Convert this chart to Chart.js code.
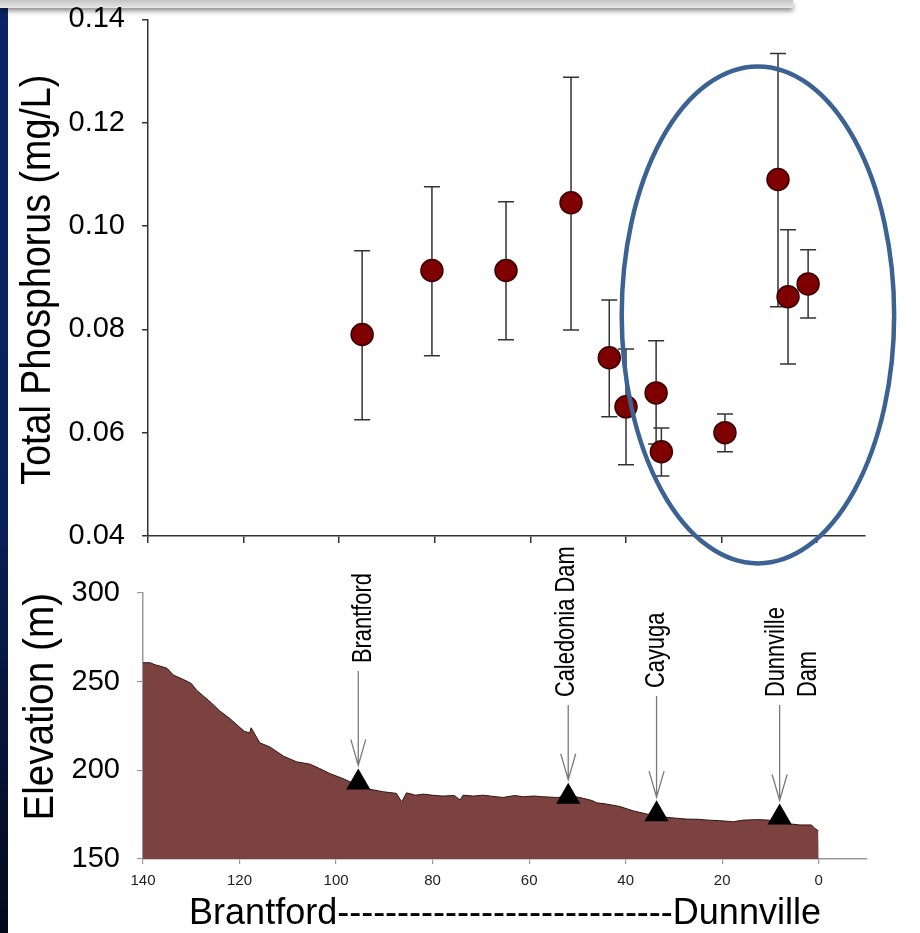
<!DOCTYPE html>
<html><head><meta charset="utf-8">
<script src="https://cdn.jsdelivr.net/npm/chart.js@4.4.1/dist/chart.umd.min.js"></script>
<style>
html,body{margin:0;padding:0;width:920px;height:933px;overflow:hidden;background:#fff;}
#strip{position:absolute;left:0;top:0;width:8px;height:933px;background:linear-gradient(#0b2466,#0a1f58 55%,#040a1c);z-index:3}
#bar{position:absolute;left:0;top:0;width:793px;height:8px;background:linear-gradient(#c4c4c4,#e8e8e8);box-shadow:0 3px 5px rgba(0,0,0,0.45);z-index:4}
#topChart{position:absolute;left:0;top:-15px;z-index:5}
#botChart{position:absolute;left:0;top:540px;z-index:1}
</style></head><body>
<div id="strip"></div><div id="bar"></div>
<canvas id="botChart" width="920" height="396"></canvas>
<canvas id="topChart" width="920" height="590"></canvas>
<script>
// ---------- data ----------
const distanceKm      = [95.2, 80.6, 65.1, 51.5, 43.5, 40.0, 33.7, 32.6, 19.3, 8.2, 6.1, 1.9];
const phosphorusMean  = [0.0790, 0.0914, 0.0914, 0.1045, 0.0745, 0.0650, 0.0677, 0.0563, 0.0600, 0.1090, 0.0863, 0.0888];
const phosphorusHigh  = [0.0952, 0.1076, 0.1047, 0.1288, 0.0857, 0.0762, 0.0778, 0.0609, 0.0636, 0.1334, 0.0993, 0.0954];
const phosphorusLow   = [0.0625, 0.0749, 0.0780, 0.0799, 0.0631, 0.0538, 0.0578, 0.0516, 0.0563, 0.0844, 0.0733, 0.0822];
const yTicksTP   = [0.04, 0.06, 0.08, 0.10, 0.12, 0.14];
const xTicksKm   = [140, 120, 100, 80, 60, 40, 20, 0];
const yTicksElev = [150, 200, 250, 300];
const profileKm   = [140, 138.5, 137.5, 136.5, 135, 133.7, 131.6, 130, 128.9, 126.1, 124.1, 122, 119.9, 119, 117.9, 117.6, 115.8, 113.7, 110.9, 108.2, 105.4, 103.4, 101.3, 98.6, 97.1, 95.4, 93, 90.2, 87.5, 86.4, 85.4, 83.5, 81.9, 79.5, 77.8, 75.5, 74.3, 73.7, 71.5, 69.5, 67.5, 65.4, 63, 61.2, 59, 57.1, 54.3, 52, 50.5, 48.8, 47, 46, 44, 41.2, 38.5, 35.7, 33.6, 31.5, 29.5, 27.4, 25, 23.3, 20.5, 17.7, 16, 15, 12.5, 10.8, 8.5, 6.7, 3.9, 1.5, 0.8, 0.1, 0];
const profileElev = [260.7, 260.7, 259.5, 258.8, 257.5, 253.7, 251.2, 249, 245.2, 238.7, 233.5, 229.2, 224.1, 222, 221.1, 224, 215.5, 213.2, 208, 204.8, 203.5, 201, 198.2, 195.4, 193.5, 192, 189.3, 187.9, 187, 182.2, 187.3, 186, 186.6, 185.8, 185.5, 185.8, 183.3, 186, 185.5, 186, 185.3, 184.7, 185.8, 185.1, 185.5, 185.1, 184.7, 185, 185.2, 184.2, 183, 181.7, 181, 179.6, 177.2, 175.4, 174.5, 173.5, 173, 172.5, 172.4, 172, 171.6, 171, 171.8, 172, 172.2, 172, 171.5, 170, 169.2, 169.2, 167.2, 166, 166];
const siteNames = ["Brantford", "Caledonia Dam", "Cayuga", ["Dunnville", "Dam"]];
const siteKm    = [95.4, 51.9, 33.6, 8.1];
const siteElev  = [193.2, 185.1, 175.3, 173.4];
const xTitle = "Brantford----------------------------Dunnville";
const yTitleTop = "Total Phosphorus (mg/L)";
const yTitleBot = "Elevation (m)";

const FONT = '"Liberation Sans", Arial, Helvetica, sans-serif';
Chart.defaults.font.family = FONT;
Chart.defaults.color = '#000';

function vText(ctx, text, bx, y, size, sx, align) {
  ctx.save();
  ctx.translate(bx, y);
  ctx.rotate(-Math.PI / 2);
  ctx.scale(sx, 1);
  ctx.font = size + 'px ' + FONT;
  ctx.textAlign = align;
  ctx.textBaseline = 'alphabetic';
  ctx.fillStyle = '#000';
  ctx.fillText(text, 0, 0);
  ctx.restore();
}

// ---------- top chart plugins ----------
const errorBars = {
  id: 'errorBars',
  beforeDatasetsDraw(chart) {
    const {ctx, scales: {x, y}} = chart;
    ctx.save();
    ctx.strokeStyle = '#333';
    ctx.lineWidth = 1.5;
    distanceKm.forEach((d, i) => {
      const px = x.getPixelForValue(d);
      const yh = y.getPixelForValue(phosphorusHigh[i]);
      const yl = y.getPixelForValue(phosphorusLow[i]);
      ctx.beginPath();
      ctx.moveTo(px, yh); ctx.lineTo(px, yl);
      ctx.moveTo(px - 8, yh); ctx.lineTo(px + 8, yh);
      ctx.moveTo(px - 8, yl); ctx.lineTo(px + 8, yl);
      ctx.stroke();
    });
    ctx.restore();
  }
};
const highlight = {
  id: 'highlight',
  afterDraw(chart, args, o) {
    const {ctx, scales: {x, y}} = chart;
    const cx = x.getPixelForValue(o.km), cy = y.getPixelForValue(o.value);
    const rx = Math.abs(x.getPixelForValue(o.km + o.kmRadius) - cx);
    const ry = Math.abs(y.getPixelForValue(o.value + o.valueRadius) - cy);
    ctx.save();
    ctx.strokeStyle = '#3c6294';
    ctx.lineWidth = 4.5;
    ctx.beginPath();
    ctx.ellipse(cx, cy, rx, ry, 0, 0, Math.PI * 2);
    ctx.stroke();
    vText(ctx, yTitleTop, 50, (chart.chartArea.top + chart.chartArea.bottom) / 2 + 2, 43, 0.875, 'center');
    ctx.restore();
  }
};

new Chart(document.getElementById('topChart'), {
  type: 'scatter',
  data: {
    datasets: [{
      data: distanceKm.map((d, i) => ({x: d, y: phosphorusMean[i]})),
      pointRadius: 11,
      pointHoverRadius: 11,
      backgroundColor: '#7e0000',
      borderColor: '#3a0000',
      borderWidth: 1.5
    }]
  },
  options: {
    responsive: false,
    animation: false,
    layout: {padding: {top: 5, right: 55, left: 0, bottom: 0}},
    plugins: {
      legend: {display: false},
      tooltip: {enabled: false},
      highlight: {km: 12.4, value: 0.0828, kmRadius: 28.5, valueRadius: 0.0481}
    },
    scales: {
      x: {
        type: 'linear', min: -10, max: 140, reverse: true,
        afterBuildTicks: s => { s.ticks = xTicksKm.map(v => ({value: v})); },
        afterFit: s => { s.height = 39; },
        ticks: {callback: () => '', autoSkip: false},
        grid: {drawOnChartArea: false, tickLength: 7, color: '#333', lineWidth: 1.5},
        border: {color: '#333', width: 1.5}
      },
      y: {
        min: 0.04, max: 0.14,
        afterBuildTicks: s => { s.ticks = yTicksTP.map(v => ({value: v})); },
        afterFit: s => { s.width = 148; },
        ticks: {callback: v => v.toFixed(2), font: {size: 29}, color: '#000', padding: 17},
        grid: {drawOnChartArea: false, tickLength: 6, color: '#333', lineWidth: 1.5},
        border: {color: '#333', width: 1.5}
      }
    }
  },
  plugins: [errorBars, highlight]
});

// ---------- bottom chart ----------
const siteLabels = {
  id: 'siteLabels',
  afterDatasetsDraw(chart, args, o) {
    const {ctx, scales: {x, y}} = chart;
    ctx.save();
    siteKm.forEach((k, i) => {
      const px = x.getPixelForValue(k);
      const apex = y.getPixelForValue(siteElev[i]) - o.markerRadius;
      const tip = apex - 3;
      const labelBottom = y.getPixelForValue(o.labelElev[i]);
      const start = labelBottom + 8;
      ctx.strokeStyle = '#7a7a7a';
      ctx.lineWidth = 1.3;
      ctx.beginPath();
      ctx.moveTo(px, start); ctx.lineTo(px, tip);
      ctx.moveTo(px - 7.5, tip - 26); ctx.lineTo(px, tip); ctx.lineTo(px + 7.5, tip - 26);
      ctx.stroke();
      const lines = Array.isArray(siteNames[i]) ? siteNames[i] : [siteNames[i]];
      lines.forEach((t, j) => {
        vText(ctx, t, px + o.dx[i] + j * 32, labelBottom, 27, 0.81, 'left');
      });
    });
    vText(ctx, yTitleBot, 53, chart.chartArea.top, 42, 0.92, 'right');
    ctx.restore();
  }
};

new Chart(document.getElementById('botChart'), {
  type: 'line',
  data: {
    datasets: [
      {
        type: 'scatter',
        data: siteKm.map((k, i) => ({x: k, y: siteElev[i]})),
        pointStyle: 'triangle', pointRadius: 14, pointHoverRadius: 14,
        backgroundColor: '#000', borderColor: '#000', borderWidth: 0,
        order: 0
      },
      {
        type: 'line',
        data: profileKm.map((k, i) => ({x: k, y: profileElev[i]})),
        fill: 'start',
        backgroundColor: '#7b423f',
        borderColor: '#2e1513',
        borderWidth: 1,
        pointRadius: 0,
        tension: 0,
        order: 1
      }
    ]
  },
  options: {
    responsive: false,
    animation: false,
    layout: {padding: {top: 53, right: 53, left: 0, bottom: 0}},
    plugins: {
      legend: {display: false},
      tooltip: {enabled: false},
      siteLabels: {markerRadius: 14, labelElev: [260.5, 241.3, 246.4, 241.3], dx: [13, 6, 7, 4]}
    },
    scales: {
      x: {
        type: 'linear', min: -10, max: 140, reverse: true,
        afterBuildTicks: s => { s.ticks = xTicksKm.map(v => ({value: v})); },
        afterFit: s => { s.height = 77; },
        ticks: {font: {size: 15}, color: '#222', padding: 8, autoSkip: false, maxRotation: 0},
        grid: {drawOnChartArea: false, tickLength: 5, color: '#999', lineWidth: 1.2},
        border: {color: '#999', width: 1.5},
        title: {display: true, text: xTitle, font: {size: 36}, color: '#000', padding: 0}
      },
      y: {
        min: 150, max: 300,
        afterBuildTicks: s => { s.ticks = yTicksElev.map(v => ({value: v})); },
        afterFit: s => { s.width = 143; },
        ticks: {font: {size: 29}, color: '#000', padding: 17},
        grid: {drawOnChartArea: false, tickLength: 6, color: '#999', lineWidth: 1.2},
        border: {color: '#999', width: 1.5}
      }
    }
  },
  plugins: [siteLabels]
});
</script>
</body></html>
